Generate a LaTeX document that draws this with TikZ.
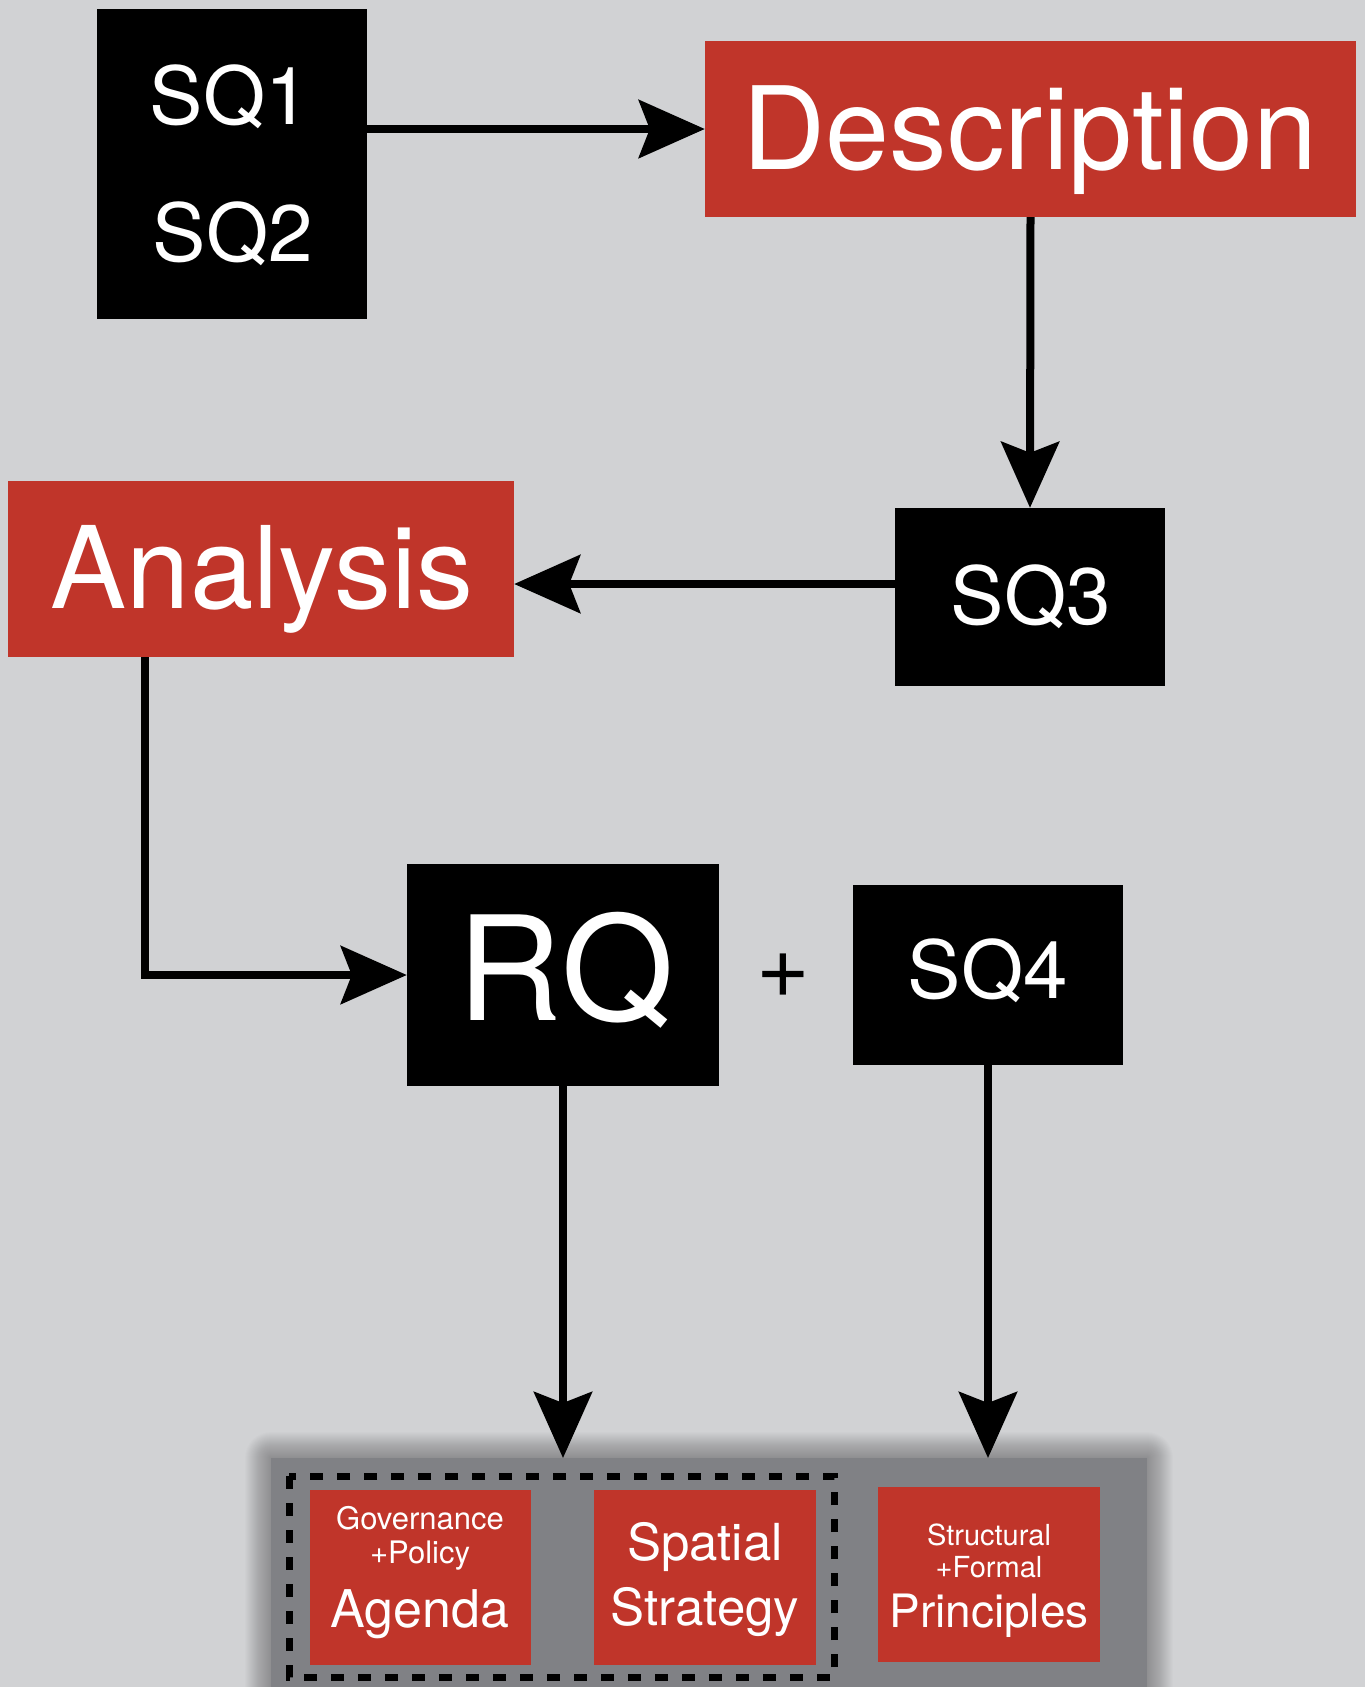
\documentclass[tikz,border=0pt]{standalone}
\usepackage{fontspec}
\setmainfont{TeX Gyre Heros}
\usetikzlibrary{arrows.meta,calc}
\definecolor{bgc}{HTML}{D1D2D4}
\definecolor{redc}{HTML}{C0352A}
\definecolor{panelc}{HTML}{808185}
\tikzset{
  blk/.style={fill=black, draw=none, inner sep=0pt},
  redbox/.style={fill=redc, draw=none, inner sep=0pt},
  lbl/.style={text=white, anchor=base, inner sep=0pt},
  arr/.style={line width=8pt, -{Stealth[length=66pt,width=58pt,inset=11pt]}},
}
\newcommand{\fs}[1]{\fontsize{#1}{#1}\selectfont}
\begin{document}
\begin{tikzpicture}[x=1pt,y=-1pt]
% canvas
\fill[bgc] (0,0) rectangle (1365,1687);
\useasboundingbox (0,0) rectangle (1365,1687);

% boxes
\path[blk] (97,9) rectangle (367,319);
\coordinate (sq12e) at (367,164);
\node[redbox, minimum width=651pt, minimum height=176pt] (desc) at (1030.5,129) {};
\node[blk, minimum width=270pt, minimum height=178pt] (sq3) at (1030,597) {};
\node[redbox, minimum width=506pt, minimum height=176pt] (ana) at (261,569) {};
\node[blk, minimum width=312pt, minimum height=222pt] (rq) at (563,975) {};
\node[blk, minimum width=270pt, minimum height=180pt] (sq4) at (988,975) {};

% labels
\node[lbl] at (230,124) {\fs{80}SQ1};
\node[lbl] at (233,261) {\fs{80}SQ2};
\node[lbl] at (1030,169) {\fs{115}Description};
\node[lbl] at (262,608) {\fs{114}Analysis};
\node[lbl] at (1031,624) {\fs{80}SQ3};
\node[lbl] at (566,1020) {\fs{145}RQ};
\node[lbl] at (988,998) {\fs{80}SQ4};
\node[inner sep=0pt] (plus) at (783,976) {\fs{92}+};

% bottom panel with soft shadow
\foreach \d in {26,25,...,1}{
  \fill[black, opacity=0.011, rounded corners=\d pt] (271-\d,1458-\d) rectangle (1147+\d,1720);
}
\fill[panelc] (271,1458) rectangle (1147,1720);
\coordinate (pnorth) at (709,1458);
\draw[line width=7pt, dash pattern=on 13pt off 14pt] (289,1476) rectangle (834,1677);

\node[redbox, minimum width=221pt, minimum height=175pt] (agenda) at (420.5,1577.5) {};
\node[redbox, minimum width=222pt, minimum height=175pt] (spatial) at (705,1577.5) {};
\node[redbox, minimum width=222pt, minimum height=175pt] (princ) at (989,1574.5) {};

\node[lbl] at (420,1529) {\fs{31}Governance};
\node[lbl] at (420,1563) {\fs{31}+Policy};
\node[lbl] at (420,1627) {\fs{52}Agenda};
\node[lbl] at (705,1560) {\fs{51}Spatial};
\node[lbl] at (705,1625) {\fs{51}Strategy};
\node[lbl] at (989,1545) {\fs{29}Structural};
\node[lbl] at (989,1577) {\fs{29}+Formal};
\node[lbl] at (989,1627) {\fs{46}Principles};

% connectors
\draw[arr] (sq12e |- desc.west) -- (desc.west);
\draw[arr] (desc.south) -- (sq3.north);
\draw[arr] ([yshift=13pt]sq3.west) -- ([yshift=13pt]sq3.west -| ana.east);
\draw[arr] ([xshift=137pt]ana.south west) |- (rq.west);
\draw[arr] (rq.south) -- (rq.south |- pnorth);
\draw[arr] (sq4.south) -- (sq4.south |- pnorth);
\end{tikzpicture}
\end{document}
